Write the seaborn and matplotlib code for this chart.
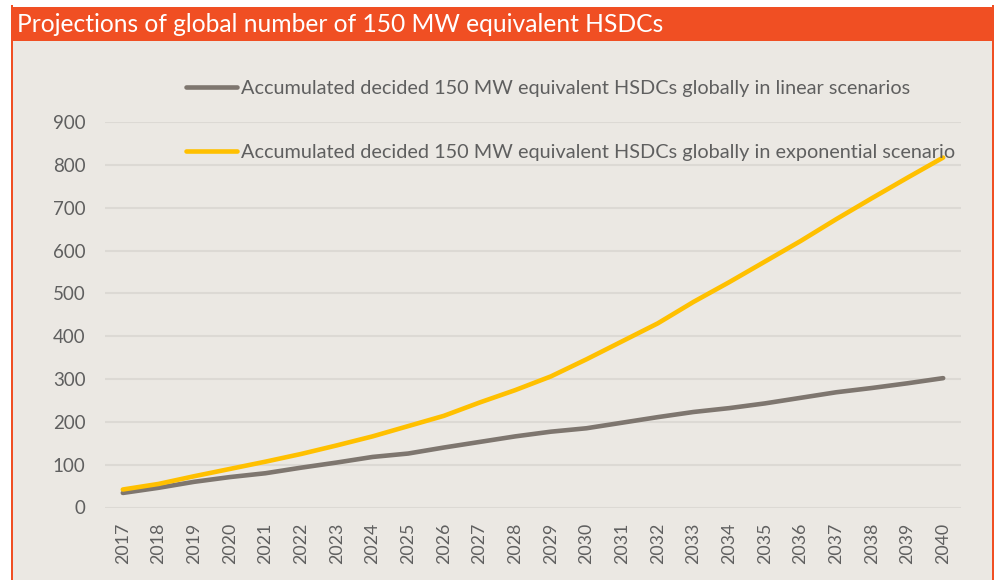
import pandas as pd
import matplotlib.pyplot as plt
import seaborn as sns
from matplotlib.patches import Rectangle

# ------------------------
# Data
# ------------------------
YEARS = list(range(2017, 2041))

LINEAR = [34, 46, 60, 71, 80, 93, 105, 118, 126, 140, 153, 166,
          177, 185, 198, 211, 223, 232, 243, 256, 269, 279, 290, 302]

EXPONENTIAL = [42, 55, 73, 90, 107, 125, 145, 166, 190, 214, 245, 274,
               306, 346, 388, 430, 480, 526, 574, 622, 673, 722, 770, 817]

SERIES_NAMES = [
    "Accumulated decided 150 MW equivalent HSDCs globally in linear scenarios",
    "Accumulated decided 150 MW equivalent HSDCs globally in exponential scenario",
]

Y_TICKS = [0, 100, 200, 300, 400, 500, 600, 700, 800, 900]

TITLE = "Projections of global number of 150 MW equivalent HSDCs"

# ------------------------
# Style
# ------------------------
ORANGE = "#F04F23"
PANEL = "#EBE8E3"
GRID = "#DCD9D4"
TEXT = "#5F5F5F"
COLORS = {SERIES_NAMES[0]: "#7E766F", SERIES_NAMES[1]: "#FFC000"}

sns.set_theme(style="white")
plt.rcParams["font.family"] = ["Lato", "DejaVu Sans"]

W, H = 999, 580


def fx(px):
    return px / W


def fy(py):
    return (H - py) / H


df = pd.DataFrame({
    "year": YEARS * 2,
    "value": LINEAR + EXPONENTIAL,
    "series": [SERIES_NAMES[0]] * len(YEARS) + [SERIES_NAMES[1]] * len(YEARS),
})

fig = plt.figure(figsize=(W / 100, H / 100), dpi=100, facecolor="white")

# frame: beige panel, orange title bar, orange side borders
fig.add_artist(Rectangle((fx(13), 0), fx(992) - fx(13), fy(41),
                         transform=fig.transFigure, facecolor=PANEL,
                         edgecolor="none", zorder=0))
fig.add_artist(Rectangle((fx(11), fy(41)), fx(994) - fx(11), fy(7) - fy(41),
                         transform=fig.transFigure, facecolor=ORANGE,
                         edgecolor="none", zorder=0))
fig.add_artist(Rectangle((fx(11), 0), fx(2), fy(5),
                         transform=fig.transFigure, facecolor=ORANGE,
                         edgecolor="none", zorder=0))
fig.add_artist(Rectangle((fx(992), 0), fx(2), fy(5),
                         transform=fig.transFigure, facecolor=ORANGE,
                         edgecolor="none", zorder=0))

fig.text(fx(17), fy(24), TITLE, color="white", fontsize=17.7,
         ha="left", va="center")

ax = fig.add_axes([fx(105), fy(507.5), fx(961) - fx(105), fy(122) - fy(507.5)])
ax.set_facecolor("none")

sns.lineplot(data=df, x="year", y="value", hue="series",
             palette=COLORS, linewidth=3.3, ax=ax, legend=False,
             solid_capstyle="round")

ax.set_xlim(YEARS[0] - 0.5, YEARS[-1] + 0.5)
ax.set_ylim(0, 900)
ax.set_xticks(YEARS)
ax.set_xticklabels([str(y) for y in YEARS], rotation=90)
ax.set_yticks(Y_TICKS)
ax.tick_params(axis="x", length=0, pad=11, labelsize=12.8, labelcolor=TEXT)
ax.tick_params(axis="y", length=0, pad=14, labelsize=13.5, labelcolor=TEXT)
ax.yaxis.grid(True, color=GRID, linewidth=1.5)
ax.xaxis.grid(False)
ax.set_axisbelow(True)
for s in ax.spines.values():
    s.set_visible(False)
ax.set_xlabel("")
ax.set_ylabel("")

# legend
handles = [plt.Line2D([], [], color=COLORS[n], linewidth=3.3,
                      solid_capstyle="round") for n in SERIES_NAMES]
leg = ax.legend(handles, SERIES_NAMES, loc="upper left",
                bbox_to_anchor=(fx(186), fy(80)), bbox_transform=fig.transFigure,
                frameon=False, fontsize=14.3, handlelength=2.57,
                handletextpad=0.2, labelspacing=2.35, borderpad=0,
                borderaxespad=0)
for t in leg.get_texts():
    t.set_color(TEXT)

fig.savefig("out.png", dpi=100, facecolor="white")
